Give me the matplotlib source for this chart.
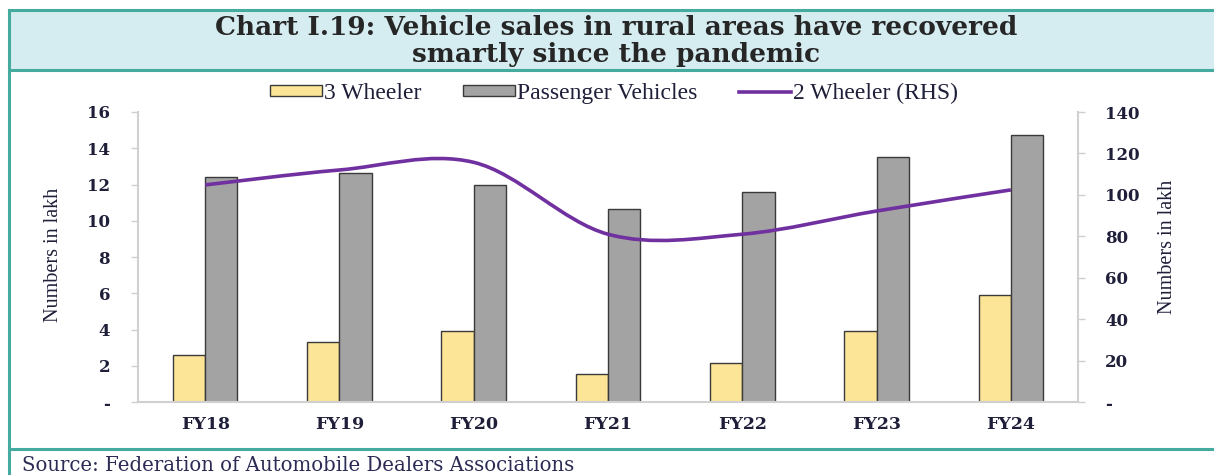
import matplotlib
matplotlib.use("Agg")
import matplotlib.pyplot as plt
import numpy as np
from matplotlib.path import Path
from matplotlib.patches import PathPatch, Rectangle
from matplotlib.lines import Line2D

categories = ["FY18", "FY19", "FY20", "FY21", "FY22", "FY23", "FY24"]
three_wheeler = [2.6, 3.3, 3.9, 1.55, 2.15, 3.9, 5.9]
passenger_vehicles = [12.4, 12.65, 11.97, 10.65, 11.6, 13.5, 14.73]
two_wheeler = [104.8, 112.0, 115.7, 81.0, 81.0, 92.2, 102.4]
left_ticks = [0, 2, 4, 6, 8, 10, 12, 14, 16]
left_labels = ["-", "2", "4", "6", "8", "10", "12", "14", "16"]
right_ticks = [0, 20, 40, 60, 80, 100, 120, 140]
right_labels = ["-", "20", "40", "60", "80", "100", "120", "140"]

W, H = 1214, 475
fig = plt.figure(figsize=(W / 100, H / 100), dpi=100)

TEAL = "#45ab9f"
TXT = "#1f1f3a"
YEL = "#fce596"
GRY = "#a3a3a3"
PURPLE = "#7030a0"

# frame / title box
fig.patches.append(Rectangle((9 / W, 1 - 70 / H), 1, 60 / H, transform=fig.transFigure,
                             facecolor="#d5ecf0", edgecolor="none", zorder=0))
for (x0, y0, x1, y1) in [(9, 10, W, 10), (9, 70, W, 70), (9, 449, W, 449), (9, 10, 9, H)]:
    fig.add_artist(Line2D([x0 / W, x1 / W], [1 - y0 / H, 1 - y1 / H], transform=fig.transFigure,
                          color=TEAL, lw=2.2, zorder=1))

fig.text(616 / W, 1 - 35 / H, "Chart I.19: Vehicle sales in rural areas have recovered",
         ha="center", va="baseline", fontsize=19, fontweight="bold", family="DejaVu Serif", color="#262626")
fig.text(616 / W, 1 - 62 / H, "smartly since the pandemic",
         ha="center", va="baseline", fontsize=19, fontweight="bold", family="DejaVu Serif", color="#262626")
fig.text(22 / W, 1 - 471 / H, "Source: Federation of Automobile Dealers Associations",
         ha="left", va="baseline", fontsize=14.2, family="DejaVu Serif", color="#2b2b55")

ax = fig.add_axes([138 / W, 1 - 402 / H, (1078 - 138) / W, (402 - 112) / H])
ax2 = ax.twinx()

x = np.arange(len(categories))
bw = 0.24
ax.bar(x - bw / 2, three_wheeler, width=bw, color=YEL, edgecolor="#3a3a3a", linewidth=1.0, zorder=2)
ax.bar(x + bw / 2, passenger_vehicles, width=bw, color=GRY, edgecolor="#3a3a3a", linewidth=1.0, zorder=2)

ax.set_xlim(-0.5, len(categories) - 0.5)
ax.set_ylim(0, 16)
ax2.set_ylim(0, 140)

# smoothed line (Excel-style bezier through data points)
pts = np.column_stack([x, two_wheeler]).astype(float)
n = len(pts)
verts = [pts[0]]
codes = [Path.MOVETO]
for i in range(n - 1):
    p_prev = pts[i - 1] if i > 0 else pts[i]
    p_next2 = pts[i + 2] if i + 2 < n else pts[i + 1]
    c1 = pts[i] + (pts[i + 1] - p_prev) / 6.0
    c2 = pts[i + 1] - (p_next2 - pts[i]) / 6.0
    verts += [c1, c2, pts[i + 1]]
    codes += [Path.CURVE4] * 3
line_patch = PathPatch(Path(verts, codes), facecolor="none", edgecolor=PURPLE, lw=2.6,
                       capstyle="butt", zorder=3)
ax2.add_patch(line_patch)

tickfont = dict(family="DejaVu Serif", weight="bold", size=12)
ax.set_yticks(left_ticks)
ax.set_yticklabels(left_labels, color=TXT, fontdict=tickfont)
ax2.set_yticks(right_ticks)
ax2.set_yticklabels(right_labels, color=TXT, fontdict=tickfont)
ax.set_xticks(x)
ax.set_xticklabels(categories, color=TXT, fontdict=dict(family="DejaVu Serif", weight="bold", size=12.5))

ax.tick_params(axis="y", length=5, width=1, color="#cfcfcf", pad=15)
ax2.tick_params(axis="y", length=5, width=1, color="#cfcfcf", pad=14.5)
ax.tick_params(axis="x", length=0, pad=10)

for a in (ax, ax2):
    a.spines["top"].set_visible(False)
    for s in ["left", "right", "bottom"]:
        a.spines[s].set_color("#d0d0d0")
        a.spines[s].set_linewidth(1.5)
ax.spines["right"].set_visible(False)
ax2.spines["left"].set_visible(False)
ax2.spines["bottom"].set_visible(False)
ax.set_zorder(ax2.get_zorder() - 1)
ax.patch.set_visible(False)

lblfont = dict(family="Liberation Serif", size=14.5, color=TXT)
fig.text(53 / W, 1 - 255 / H, "Numbers in lakh", rotation=90, ha="center", va="center", **lblfont)
fig.text(1168 / W, 1 - 247 / H, "Numbers in lakh", rotation=90, ha="center", va="center", **lblfont)

handles = [Rectangle((0, 0), 1, 1, facecolor=YEL, edgecolor="#3a3a3a", lw=1),
           Rectangle((0, 0), 1, 1, facecolor=GRY, edgecolor="#3a3a3a", lw=1),
           Line2D([], [], color=PURPLE, lw=2.6)]
fig.legend(handles, ["3 Wheeler", "Passenger Vehicles", "2 Wheeler (RHS)"],
           loc="center", bbox_to_anchor=(614 / W, 1 - 93 / H), ncol=3, frameon=False,
           prop=dict(family="Liberation Serif", size=17), handlelength=2.2, handleheight=0.34,
           handletextpad=0.07, columnspacing=1.78, labelcolor=TXT)

fig.savefig("out.png", dpi=100)
